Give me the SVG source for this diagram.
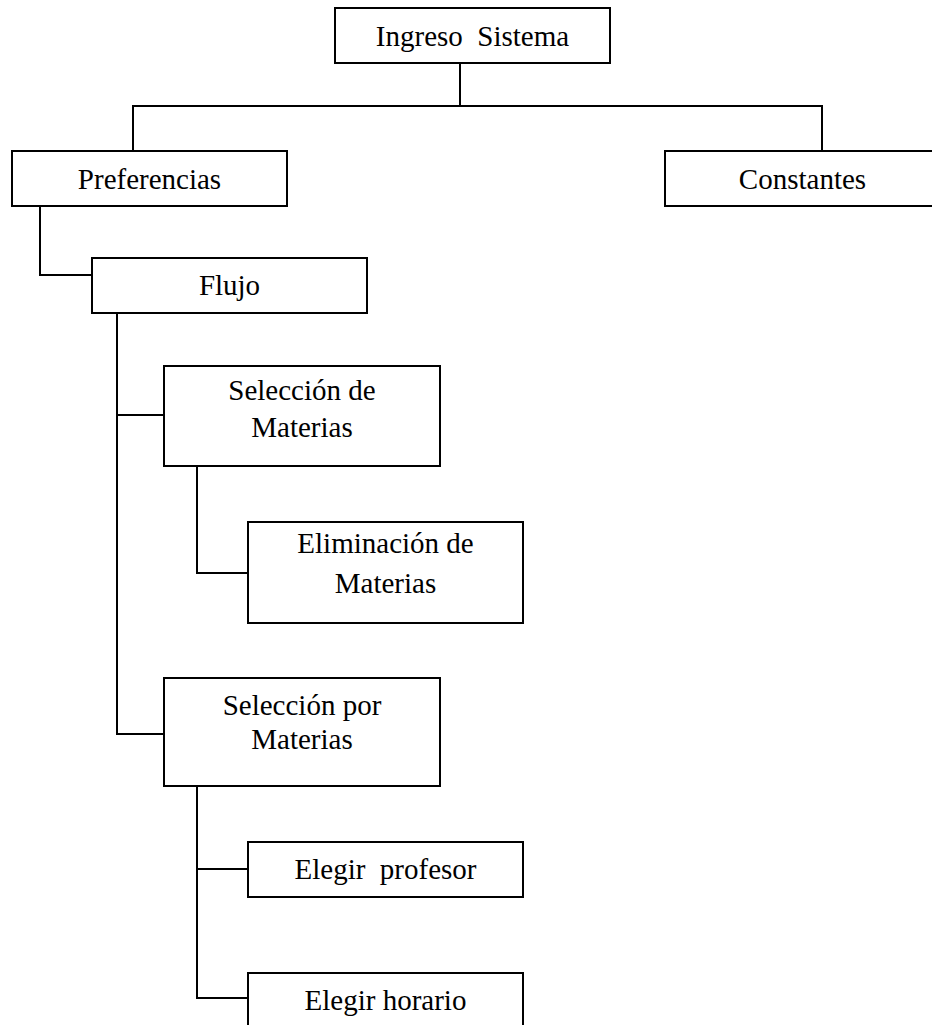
<svg xmlns="http://www.w3.org/2000/svg" width="932" height="1025" viewBox="0 0 932 1025">
<style>
.box{fill:#fff;stroke:#000;stroke-width:2}
.ln{fill:none;stroke:#000;stroke-width:2}
text{font-family:"Liberation Serif","Times New Roman",serif;font-size:29px;fill:#000;text-anchor:middle}
</style>
<rect width="932" height="1025" fill="#fff"/>
<g id="connectors">
<path class="ln" d="M460,63 V106 M133,151 V106 H822 V151"/>
<path class="ln" d="M40,206 V275 H92"/>
<path class="ln" d="M117,313 V734 H164 M117,415 H164"/>
<path class="ln" d="M197,466 V573 H248"/>
<path class="ln" d="M197,786 V998 H248 M197,869 H248"/>
</g>
<g id="ingreso"><rect class="box" x="335" y="8" width="275" height="55"/><text x="472.5" y="46" xml:space="preserve">Ingreso  Sistema</text></g>
<g id="preferencias"><rect class="box" x="12" y="151" width="275" height="55"/><text x="149.5" y="189">Preferencias</text></g>
<g id="constantes"><rect class="box" x="665" y="151" width="275" height="55"/><text x="802.5" y="189">Constantes</text></g>
<g id="flujo"><rect class="box" x="92" y="258" width="275" height="55"/><text x="229.5" y="295">Flujo</text></g>
<g id="seleccion-de"><rect class="box" x="164" y="366" width="276" height="100"/><text x="302" y="400">Selección de</text><text x="302" y="437">Materias</text></g>
<g id="eliminacion"><rect class="box" x="248" y="522" width="275" height="101"/><text x="385.5" y="553">Eliminación de</text><text x="385.5" y="593">Materias</text></g>
<g id="seleccion-por"><rect class="box" x="164" y="678" width="276" height="108"/><text x="302" y="715">Selección por</text><text x="302" y="749">Materias</text></g>
<g id="profesor"><rect class="box" x="248" y="842" width="275" height="55"/><text x="385.5" y="879" xml:space="preserve">Elegir  profesor</text></g>
<g id="horario"><rect class="box" x="248" y="973" width="275" height="70"/><text x="385.5" y="1010">Elegir horario</text></g>
</svg>
